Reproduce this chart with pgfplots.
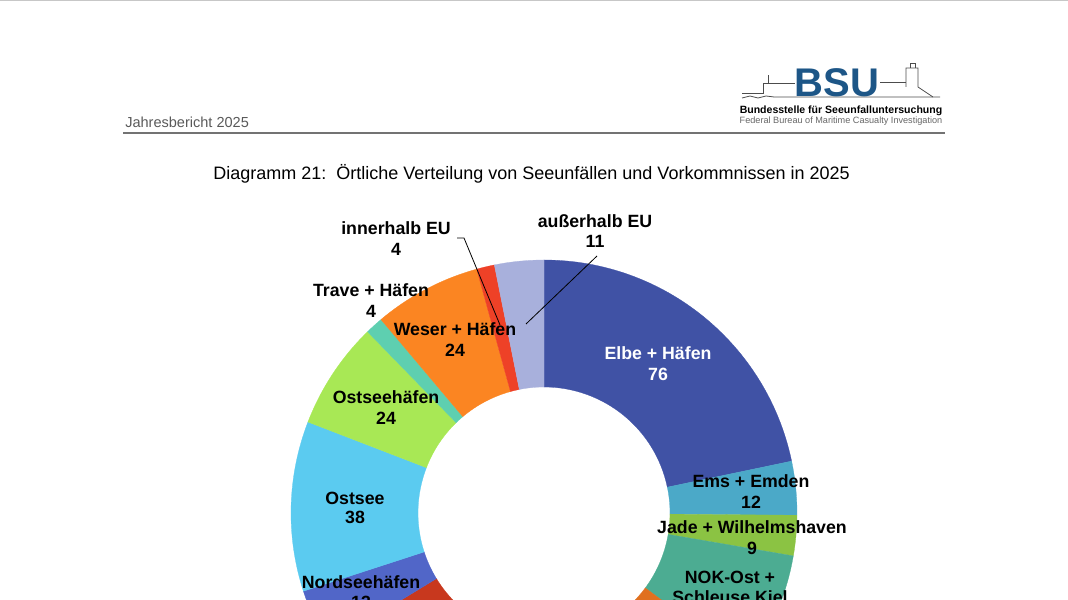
\documentclass[border=0pt]{standalone}
\usepackage{fontspec}
\setmainfont{Liberation Sans}
\usepackage{pgfplots}
\pgfplotsset{compat=1.18}
\usepackage{pgfplotstable}
\usetikzlibrary{calc}

\definecolor{cElbe}{RGB}{64,82,165}
\definecolor{cEms}{RGB}{75,169,200}
\definecolor{cJade}{RGB}{139,195,67}
\definecolor{cNOKO}{RGB}{76,172,146}
\definecolor{cNOKW}{RGB}{224,112,31}
\definecolor{cNOK}{RGB}{150,150,150}
\definecolor{cNordsee}{RGB}{120,90,180}
\definecolor{cBinnen}{RGB}{200,56,30}
\definecolor{cNordH}{RGB}{81,102,200}
\definecolor{cOstsee}{RGB}{91,203,240}
\definecolor{cOstH}{RGB}{168,232,85}
\definecolor{cTrave}{RGB}{94,207,176}
\definecolor{cWeser}{RGB}{251,133,34}
\definecolor{cInEU}{RGB}{238,65,39}
\definecolor{cAusEU}{RGB}{168,176,220}
\definecolor{cBSU}{RGB}{29,86,135}
\definecolor{cHead}{RGB}{89,89,89}

\tikzset{lab/.style={font=\fontsize{13.3}{16}\selectfont\bfseries, inner sep=0pt, anchor=base}}

% slices clockwise from 12 o'clock
\pgfplotstableread{
value col
76 cElbe
12 cEms
9 cJade
26 cNOKO
20 cNOKW
14 cNOK
45 cNordsee
30 cBinnen
13 cNordH
38 cOstsee
24 cOstH
4 cTrave
24 cWeser
4 cInEU
11 cAusEU
}\piedata

\def\Ro{189.75pt}
\def\Ri{94.5pt}

\begin{document}
\begin{tikzpicture}
\begin{axis}[
  scale only axis, width=801pt, height=450pt,
  xmin=0, xmax=1068, ymin=0, ymax=600,
  hide axis, clip=true,
]
% donut
\pgfplotsextra{%
  \pgfplotstablegetrowsof{\piedata}%
  \pgfmathtruncatemacro{\lastrow}{\pgfplotsretval-1}%
  \gdef\tot{0}%
  \foreach \i in {0,...,\lastrow}{%
    \pgfplotstablegetelem{\i}{value}\of{\piedata}\let\v\pgfplotsretval
    \pgfmathsetmacro{\nt}{\tot+\v}\xdef\tot{\nt}%
  }%
  \gdef\cum{0}%
  \foreach \i in {0,...,\lastrow}{%
    \pgfplotstablegetelem{\i}{value}\of{\piedata}\let\v\pgfplotsretval
    \pgfplotstablegetelem{\i}{col}\of{\piedata}\let\c\pgfplotsretval
    \pgfmathsetmacro{\sa}{90-\cum/\tot*360}%
    \pgfmathsetmacro{\ea}{90-(\cum+\v)/\tot*360}%
    \fill[fill=\c, draw=\c, line width=0.2pt] ($(axis cs:544,87)+(\sa:\Ro)$) arc[start angle=\sa, end angle=\ea, radius=\Ro]
      -- ($(axis cs:544,87)+(\ea:\Ri)$) arc[start angle=\ea, end angle=\sa, radius=\Ri] -- cycle;
    \pgfmathsetmacro{\nc}{\cum+\v}\xdef\cum{\nc}%
  }%
}

% leader lines
\addplot[black, line width=0.6pt] coordinates {(457,362) (464,362) (500,275)};
\addplot[black, line width=0.6pt] coordinates {(597,344) (526,276)};

% header
\addplot[black!22, line width=1pt] coordinates {(0,599.6) (1068,599.6)};
\addplot[black!55, line width=1.5pt] coordinates {(123,467) (945,467)};
\node[anchor=base west, inner sep=0pt, text=cHead, font=\fontsize{10.9}{12}\selectfont] at (axis cs:125,472) {Jahresbericht 2025};

% logo
\addplot[black!70, line width=0.6pt] coordinates {(742,507) (763,507) (763,517) (795,517)};
\addplot[black!70, line width=0.6pt] coordinates {(768,517) (768,525)};
\addplot[black!70, line width=0.6pt] coordinates {(742,502) (750,504) (758,502) (766,504) (774,503) (940,503)};
\addplot[black!70, line width=0.6pt] coordinates {(880,518) (906,518)};
\addplot[black!70, line width=0.6pt] coordinates {(906,513) (906,532) (918,532) (918,513) (933,503)};
\addplot[black!70, line width=0.6pt] coordinates {(910,532) (910,537) (915,537) (915,532)};
\node[anchor=base, inner sep=0pt, text=cBSU, font=\fontsize{30}{30}\selectfont\bfseries] at (axis cs:837,503) {BSU};
\node[anchor=base, inner sep=0pt, font=\fontsize{7.9}{9}\selectfont\bfseries] at (axis cs:841,486) {Bundesstelle für Seeunfalluntersuchung};
\node[anchor=base, inner sep=0pt, text=black!60, font=\fontsize{6.85}{7}\selectfont] at (axis cs:841,476) {Federal Bureau of Maritime Casualty Investigation};

% title
\node[anchor=base, inner sep=0pt, font=\fontsize{13.5}{15}\selectfont] at (axis cs:531.5,420) {Diagramm 21:\ \ Örtliche Verteilung von Seeunfällen und Vorkommnissen in 2025};

% labels
\node[lab] at (axis cs:396,365) {innerhalb EU};
\node[lab] at (axis cs:396,344) {4};
\node[lab] at (axis cs:595,372) {außerhalb EU};
\node[lab] at (axis cs:595,352) {11};
\node[lab] at (axis cs:371,303) {Trave + Häfen};
\node[lab] at (axis cs:371,282) {4};
\node[lab] at (axis cs:455,264) {Weser + Häfen};
\node[lab] at (axis cs:455,243) {24};
\node[lab, text=white] at (axis cs:658,240) {Elbe + Häfen};
\node[lab, text=white] at (axis cs:658,219) {76};
\node[lab] at (axis cs:386,196) {Ostseehäfen};
\node[lab] at (axis cs:386,175) {24};
\node[lab] at (axis cs:355,95) {Ostsee};
\node[lab] at (axis cs:355,76) {38};
\node[lab] at (axis cs:361,12) {Nordseehäfen};
\node[lab] at (axis cs:361,-8) {13};
\node[lab] at (axis cs:751,112) {Ems + Emden};
\node[lab] at (axis cs:751,91) {12};
\node[lab] at (axis cs:752,66) {Jade + Wilhelmshaven};
\node[lab] at (axis cs:752,45) {9};
\node[lab] at (axis cs:730,16) {NOK-Ost +};
\node[lab] at (axis cs:730,-4) {Schleuse Kiel};
\end{axis}
\pgfresetboundingbox
\useasboundingbox (current axis.south west) rectangle (current axis.north east);
\end{tikzpicture}
\end{document}
